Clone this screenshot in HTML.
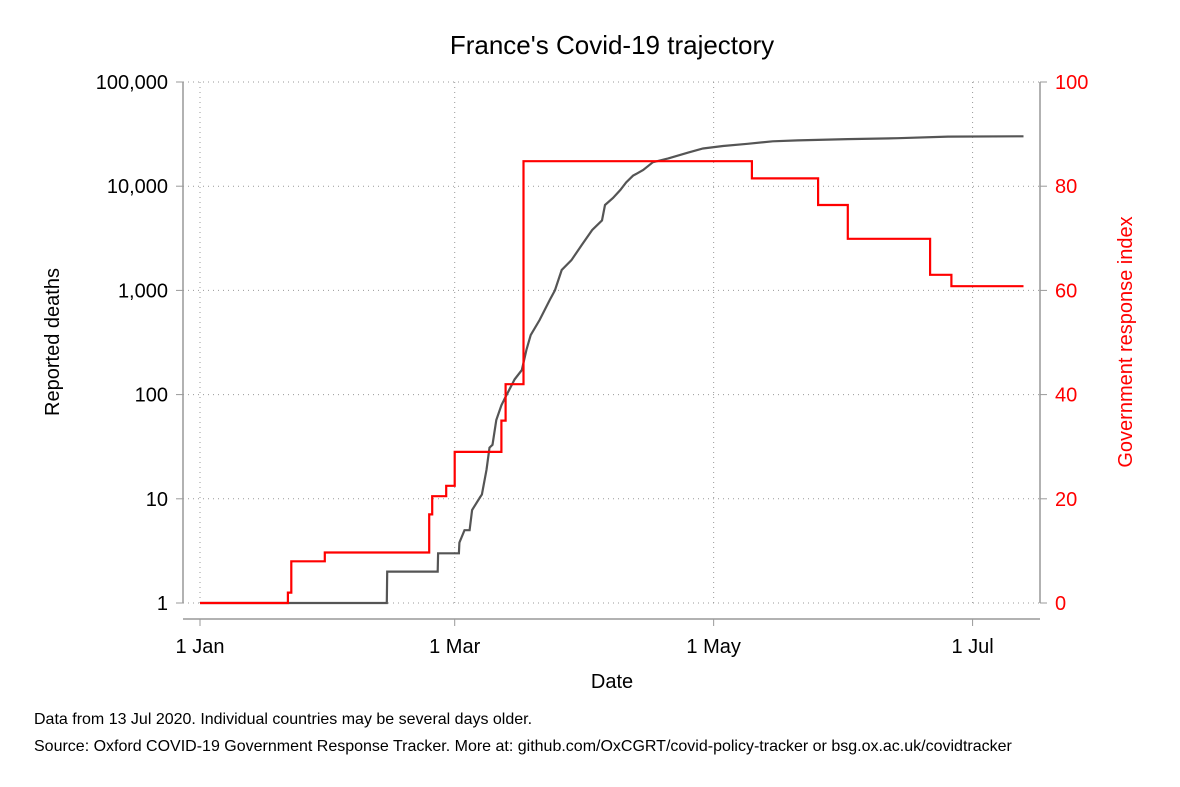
<!DOCTYPE html>
<html><head><meta charset="utf-8"><style>
body{margin:0;background:#fff;}
svg{display:block;font-family:"Liberation Sans",Arial,sans-serif;}
</style></head><body>
<svg id="chart" width="1180" height="787" viewBox="0 0 1180 787" xmlns="http://www.w3.org/2000/svg">
<rect width="1180" height="787" fill="#fff"/>
<text x="612" y="54" font-size="26" text-anchor="middle" fill="#000">France's Covid-19 trajectory</text>
<g id="grid"></g>
<g id="axes"></g>
<g id="series"></g>
<text transform="translate(59,342) rotate(-90)" font-size="20" text-anchor="middle">Reported deaths</text>
<text transform="translate(1132,342) rotate(-90)" font-size="20" text-anchor="middle" fill="#ff0000">Government response index</text>
<text x="612" y="688" font-size="20" text-anchor="middle">Date</text>
<text x="34" y="724" font-size="16">Data from 13 Jul 2020. Individual countries may be several days older.</text>
<text x="34" y="751" font-size="16">Source: Oxford COVID-19 Government Response Tracker. More at: github.com/OxCGRT/covid-policy-tracker or bsg.ox.ac.uk/covidtracker</text>
</svg>
<script>
const xTickDays=[0,60,121,182];
const xTickLabels=["1 Jan","1 Mar","1 May","1 Jul"];
const yTickValues=[1,10,100,1000,10000,100000];
const yTickLabels=["1","10","100","1,000","10,000","100,000"];
const y2TickValues=[0,20,40,60,80,100];
const deathDays=[0,44,44.1,56,56.1,61,61.1,62.3,63.5,64.1,66,66.4,67.5,68.2,68.9,69.8,71,71.8,73.4,74.1,75.8,76.9,77.9,80,82.4,83.6,85.2,87.5,90,92.4,94.7,95.4,97.3,99,100.4,102,104.4,106.7,110.3,115,118.5,123.2,129,134.9,140.8,152.6,164.4,176.2,194];
const deathValues=[1,1,2,2,3,3,3.8,5,5,7.8,10.4,11,19,31,33,57,79,92,123,140,172,268,372,520,810,1000,1570,1950,2750,3800,4700,6600,7700,9200,10900,12600,14300,17000,18500,21000,23000,24300,25500,27000,27500,28300,28900,29900,30100];
const indexDays=[0,20.7,21.5,29.4,54,54.7,58,60,71,72,76.2,130,145.6,152.6,172,177,194];
const indexValues=[0,2,8,9.7,17,20.5,22.5,29,35,42,84.8,81.5,76.4,69.9,63,60.8,60.8];

const NS="http://www.w3.org/2000/svg";
const L=183,R=1040,T=82,B=603,X0=200,PX=4.245;
const xs=d=>X0+d*PX;
const yl=v=>B-(B-T)/5*Math.log10(v);
const yr=v=>B-(B-T)*v/100;
function mk(parent,tag,attrs){const e=document.createElementNS(NS,tag);for(const k in attrs)e.setAttribute(k,attrs[k]);document.getElementById(parent).appendChild(e);return e;}

yTickValues.forEach((v,i)=>{
  const g=mk("grid","line",{x1:L,x2:R,y1:yl(v),y2:yl(v),stroke:"#999","stroke-dasharray":"1 4"});
  
  
  const t=mk("axes","line",{x1:L-7,x2:L,y1:yl(v),y2:yl(v),stroke:"#999"});
  
  
  const lb=mk("axes","text",{x:L-15,y:yl(v)+7,"font-size":20,"text-anchor":"end"});
  lb.textContent=yTickLabels[i];
  
  
});
xTickDays.forEach((d,i)=>{
  const g=mk("grid","line",{x1:xs(d),x2:xs(d),y1:T,y2:B,stroke:"#999","stroke-dasharray":"1 4"});
  
  
  const t=mk("axes","line",{x1:xs(d),x2:xs(d),y1:619,y2:626,stroke:"#999"});
  
  
  const lb=mk("axes","text",{x:xs(d),y:653,"font-size":20,"text-anchor":"middle"});
  lb.textContent=xTickLabels[i];
  
  
});
y2TickValues.forEach(v=>{
  const t=mk("axes","line",{x1:R,x2:R+7,y1:yr(v),y2:yr(v),stroke:"#999"});
  
  
  const lb=mk("axes","text",{x:R+15,y:yr(v)+7,"font-size":20,fill:"#ff0000"});
  lb.textContent=v;
  
  
});
const al=mk("axes","line",{x1:L,x2:L,y1:T,y2:B,stroke:"#999","stroke-width":1.5});


const ar=mk("axes","line",{x1:R,x2:R,y1:T,y2:B,stroke:"#999","stroke-width":1.5});


const ab=mk("axes","line",{x1:L,x2:R,y1:619,y2:619,stroke:"#999","stroke-width":1.5});



const dp=deathDays.map((d,i)=>xs(d).toFixed(1)+","+yl(deathValues[i]).toFixed(1)).join(" ");
const dl=mk("series","polyline",{points:dp,fill:"none",stroke:"#555","stroke-width":2.2});


let ipts=[];
indexDays.forEach((d,i)=>{
  if(i>0) ipts.push(xs(d).toFixed(1)+","+yr(indexValues[i-1]).toFixed(1));
  ipts.push(xs(d).toFixed(1)+","+yr(indexValues[i]).toFixed(1));
});
const il=mk("series","polyline",{points:ipts.join(" "),fill:"none",stroke:"#ff0000","stroke-width":2.2});


</script>
</body></html>
